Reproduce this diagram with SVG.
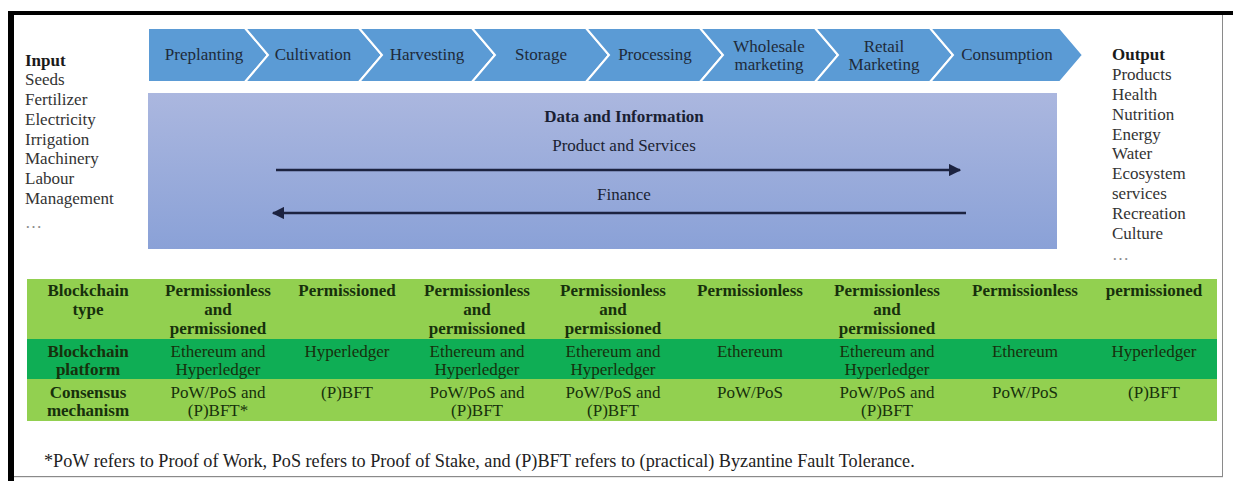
<svg xmlns="http://www.w3.org/2000/svg" width="1233" height="481" viewBox="0 0 1233 481">
  <defs>
    <linearGradient id="infoFill" x1="0" y1="0" x2="0" y2="1">
      <stop offset="0" stop-color="#abb7df"/>
      <stop offset="1" stop-color="#8aa1d7"/>
    </linearGradient>
    <marker id="arrowHead" viewBox="0 0 10 10" refX="9" refY="5" markerWidth="5" markerHeight="5" orient="auto-start-reverse" markerUnits="strokeWidth">
      <path d="M0,0 L10,5 L0,10 Z" fill="#1c2340"/>
    </marker>
    <style>
      text { font-family: "Liberation Serif", "Times New Roman", serif; font-size: 17px; }
      .stage { fill: #5b9bd5; stroke: #ffffff; stroke-width: 2; }
      .stageLabel { fill: #1e2a3a; text-anchor: middle; }
      .side { fill: #333333; }
      .dots { fill: #8a8a8a; }
      .sideHead { fill: #1a1a1a; font-weight: bold; }
      .infoHead { fill: #1a1f33; font-weight: bold; text-anchor: middle; }
      .infoText { fill: #1a1f33; text-anchor: middle; }
      .flow { stroke: #1c2340; stroke-width: 2.5; fill: none; }
      .rowLight { fill: #92d050; }
      .rowDark { fill: #0fae55; }
      .cellHead { fill: #17300c; font-weight: bold; text-anchor: middle; }
      .cell { fill: #17300c; text-anchor: middle; }
      .note { fill: #222222; font-size: 18.2px; }
    </style>
  </defs>

  <rect x="0" y="0" width="1233" height="481" fill="#ffffff"/>

  <!-- frame -->
  <g id="frame">
    <rect x="1222" y="13" width="1" height="464" fill="#8a8a8a"/>
    <rect x="8" y="476" width="1215" height="1.2" fill="#8a8a8a"/>
    <rect x="8" y="11" width="1225" height="4" fill="#000000"/>
    <rect x="8" y="11" width="6" height="470" fill="#000000"/>
  </g>

  <!-- supply chain stages -->
  <g id="stage-preplanting">
    <polygon class="stage" points="148,28 245,28 268,55 245,82 148,82"/>
    <text class="stageLabel" x="204" y="60">Preplanting</text>
  </g>
  <g id="stage-cultivation">
    <polygon class="stage" points="245,28 359,28 382,55 359,82 245,82 268,55"/>
    <text class="stageLabel" x="313" y="60">Cultivation</text>
  </g>
  <g id="stage-harvesting">
    <polygon class="stage" points="359,28 472,28 495,55 472,82 359,82 382,55"/>
    <text class="stageLabel" x="427" y="60">Harvesting</text>
  </g>
  <g id="stage-storage">
    <polygon class="stage" points="472,28 586,28 609,55 586,82 472,82 495,55"/>
    <text class="stageLabel" x="541" y="60">Storage</text>
  </g>
  <g id="stage-processing">
    <polygon class="stage" points="586,28 700,28 723,55 700,82 586,82 609,55"/>
    <text class="stageLabel" x="655" y="60">Processing</text>
  </g>
  <g id="stage-wholesale">
    <polygon class="stage" points="700,28 815,28 838,55 815,82 700,82 723,55"/>
    <text class="stageLabel" x="769" y="52">Wholesale</text>
    <text class="stageLabel" x="769" y="70">marketing</text>
  </g>
  <g id="stage-retail">
    <polygon class="stage" points="815,28 930,28 953,55 930,82 815,82 838,55"/>
    <text class="stageLabel" x="884" y="52">Retail</text>
    <text class="stageLabel" x="884" y="70">Marketing</text>
  </g>
  <g id="stage-consumption">
    <polygon class="stage" points="930,28 1060,28 1083,55 1060,82 930,82 953,55"/>
    <text class="stageLabel" x="1007" y="60">Consumption</text>
  </g>

  <!-- inputs -->
  <g id="inputs">
    <text class="sideHead" x="25" y="66">Input</text>
    <text class="side" x="25" y="85">Seeds</text>
    <text class="side" x="25" y="105">Fertilizer</text>
    <text class="side" x="25" y="125">Electricity</text>
    <text class="side" x="25" y="145">Irrigation</text>
    <text class="side" x="25" y="164">Machinery</text>
    <text class="side" x="25" y="184">Labour</text>
    <text class="side" x="25" y="204">Management</text>
    <text class="dots" x="25" y="228">…</text>
  </g>

  <!-- outputs -->
  <g id="outputs">
    <text class="sideHead" x="1112" y="60">Output</text>
    <text class="side" x="1112" y="80">Products</text>
    <text class="side" x="1112" y="100">Health</text>
    <text class="side" x="1112" y="120">Nutrition</text>
    <text class="side" x="1112" y="140">Energy</text>
    <text class="side" x="1112" y="159">Water</text>
    <text class="side" x="1112" y="179">Ecosystem</text>
    <text class="side" x="1112" y="199">services</text>
    <text class="side" x="1112" y="219">Recreation</text>
    <text class="side" x="1112" y="239">Culture</text>
    <text class="dots" x="1112" y="260">…</text>
  </g>

  <!-- data, products and finance flows -->
  <g id="info-box">
    <rect x="148" y="93" width="909" height="156" fill="url(#infoFill)"/>
    <text class="infoHead" x="624" y="122">Data and Information</text>
    <text class="infoText" x="624" y="151">Product and Services</text>
    <text class="infoText" x="624" y="200">Finance</text>
  </g>

  <g id="connectors">
    <line class="flow" x1="276" y1="170" x2="960" y2="170" marker-end="url(#arrowHead)"/>
    <line class="flow" x1="966" y1="213" x2="273" y2="213" marker-end="url(#arrowHead)"/>
  </g>

  <!-- blockchain table -->
  <g id="table-rows">
    <rect class="rowLight" x="27" y="279" width="1190" height="60"/>
    <rect class="rowDark" x="27" y="339" width="1190" height="40"/>
    <rect class="rowLight" x="27" y="379" width="1190" height="42"/>
  </g>

  <g id="row-type">
    <text class="cellHead" x="88" y="296">Blockchain</text>
    <text class="cellHead" x="88" y="315">type</text>
    <text class="cellHead" x="218" y="296">Permissionless</text>
    <text class="cellHead" x="218" y="315">and</text>
    <text class="cellHead" x="218" y="334">permissioned</text>
    <text class="cellHead" x="347" y="296">Permissioned</text>
    <text class="cellHead" x="477" y="296">Permissionless</text>
    <text class="cellHead" x="477" y="315">and</text>
    <text class="cellHead" x="477" y="334">permissioned</text>
    <text class="cellHead" x="613" y="296">Permissionless</text>
    <text class="cellHead" x="613" y="315">and</text>
    <text class="cellHead" x="613" y="334">permissioned</text>
    <text class="cellHead" x="750" y="296">Permissionless</text>
    <text class="cellHead" x="887" y="296">Permissionless</text>
    <text class="cellHead" x="887" y="315">and</text>
    <text class="cellHead" x="887" y="334">permissioned</text>
    <text class="cellHead" x="1025" y="296">Permissionless</text>
    <text class="cellHead" x="1154" y="296">permissioned</text>
  </g>

  <g id="row-platform">
    <text class="cellHead" x="88" y="357">Blockchain</text>
    <text class="cellHead" x="88" y="375">platform</text>
    <text class="cell" x="218" y="357">Ethereum and</text>
    <text class="cell" x="218" y="375">Hyperledger</text>
    <text class="cell" x="347" y="357">Hyperledger</text>
    <text class="cell" x="477" y="357">Ethereum and</text>
    <text class="cell" x="477" y="375">Hyperledger</text>
    <text class="cell" x="613" y="357">Ethereum and</text>
    <text class="cell" x="613" y="375">Hyperledger</text>
    <text class="cell" x="750" y="357">Ethereum</text>
    <text class="cell" x="887" y="357">Ethereum and</text>
    <text class="cell" x="887" y="375">Hyperledger</text>
    <text class="cell" x="1025" y="357">Ethereum</text>
    <text class="cell" x="1154" y="357">Hyperledger</text>
  </g>

  <g id="row-consensus">
    <text class="cellHead" x="88" y="398">Consensus</text>
    <text class="cellHead" x="88" y="416">mechanism</text>
    <text class="cell" x="218" y="398">PoW/PoS and</text>
    <text class="cell" x="218" y="416">(P)BFT*</text>
    <text class="cell" x="347" y="398">(P)BFT</text>
    <text class="cell" x="477" y="398">PoW/PoS and</text>
    <text class="cell" x="477" y="416">(P)BFT</text>
    <text class="cell" x="613" y="398">PoW/PoS and</text>
    <text class="cell" x="613" y="416">(P)BFT</text>
    <text class="cell" x="750" y="398">PoW/PoS</text>
    <text class="cell" x="887" y="398">PoW/PoS and</text>
    <text class="cell" x="887" y="416">(P)BFT</text>
    <text class="cell" x="1025" y="398">PoW/PoS</text>
    <text class="cell" x="1154" y="398">(P)BFT</text>
  </g>

  <g id="footnote">
    <text class="note" x="44" y="467">*PoW refers to Proof of Work, PoS refers to Proof of Stake, and (P)BFT refers to (practical) Byzantine Fault Tolerance.</text>
  </g>
</svg>
